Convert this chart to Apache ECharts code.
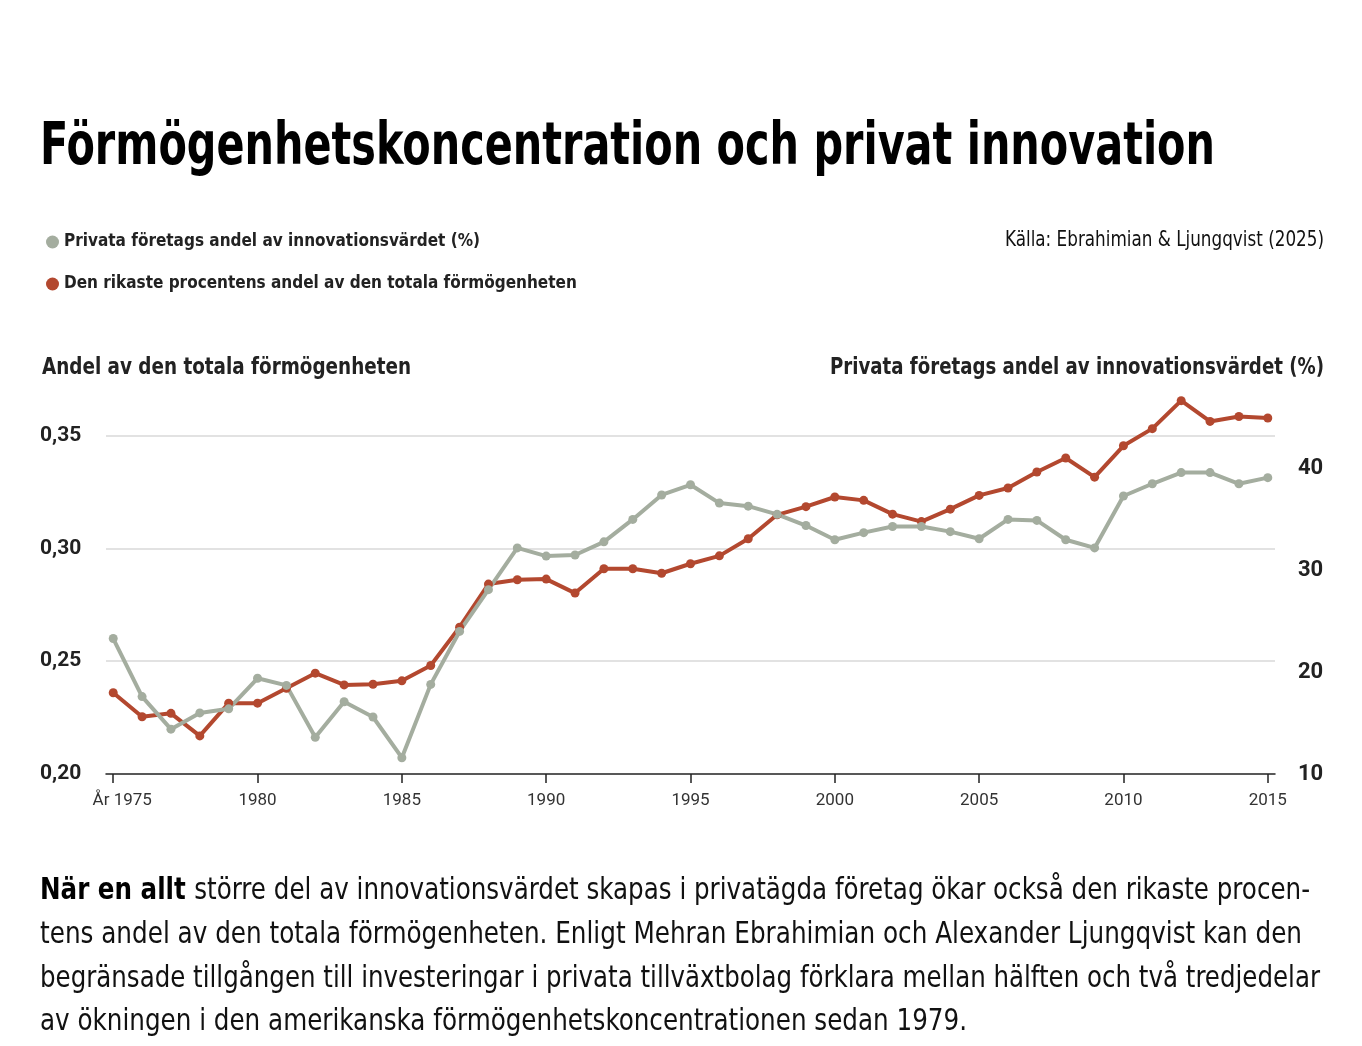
<!DOCTYPE html>
<html>
<head>
<meta charset="utf-8">
<script src="https://cdn.jsdelivr.net/npm/echarts@6/dist/echarts.min.js"></script>
<style>
  html, body { margin: 0; background: #fff; }
  #chart { width: 1362px; height: 1046px; }
</style>
</head>
<body>
<div id="chart"></div>
<script>
// years 1975-2015
const years = [1975, 1976, 1977, 1978, 1979, 1980, 1981, 1982, 1983, 1984,
  1985, 1986, 1987, 1988, 1989, 1990, 1991, 1992, 1993, 1994,
  1995, 1996, 1997, 1998, 1999, 2000, 2001, 2002, 2003, 2004,
  2005, 2006, 2007, 2008, 2009, 2010, 2011, 2012, 2013, 2014, 2015];

// den rikaste procentens andel (vänster axel)
const wealthShare = [0.236, 0.2254, 0.2269, 0.2169, 0.2314, 0.2314, 0.238, 0.2447, 0.2395, 0.2398,
  0.2413, 0.2481, 0.2651, 0.2842, 0.2861, 0.2864, 0.2802, 0.291, 0.291, 0.289,
  0.2932, 0.2967, 0.3043, 0.3149, 0.3185, 0.3228, 0.3213, 0.3152, 0.3119, 0.3174,
  0.3235, 0.3268, 0.3339, 0.3401, 0.3316, 0.3455, 0.3531, 0.3655, 0.3563, 0.3585, 0.3578];

// privata företags andel av innovationsvärdet, % (höger axel)
const privateShare = [23.3, 17.6, 14.4, 16.0, 16.4, 19.4, 18.7, 13.6, 17.1, 15.6,
  11.6, 18.8, 24.0, 28.1, 32.2, 31.4, 31.5, 32.8, 35.0, 37.4,
  38.4, 36.6, 36.3, 35.5, 34.4, 33.0, 33.7, 34.3, 34.3, 33.8,
  33.1, 35.0, 34.9, 33.0, 32.2, 37.3, 38.5, 39.6, 39.6, 38.5, 39.1];

const xTicks = [1975, 1980, 1985, 1990, 1995, 2000, 2005, 2010, 2015];

const RED = '#b3482f';
const GREY = '#a4ad9f';
const NARROW = "'Liberation Sans Narrow', 'DejaVu Sans Condensed', 'Roboto', sans-serif";
const NAME_WEALTH = 'Den rikaste procentens andel av den totala förmögenheten';
const NAME_PRIVATE = 'Privata företags andel av innovationsvärdet (%)';

// squeeze text horizontally so it spans the same width as in the original
const ctx = document.createElement('canvas').getContext('2d');
function fit(parts, width) {
  let w = 0;
  parts.forEach(function (p) { ctx.font = p[1]; w += ctx.measureText(p[0]).width; });
  return width / w;
}
function fnt(weight, size) { return weight + ' ' + size + 'px ' + NARROW; }

function label(text, x, y, width, weight, size, align, color) {
  const f = fnt(weight, size);
  return {
    type: 'text', x: x, y: y,
    scaleX: fit([[text, f]], width),
    style: { text: text, font: f, fill: color || '#111', align: align || 'left', verticalAlign: 'middle' }
  };
}

const bodyLines = [
  ['större del av innovationsvärdet skapas i privatägda företag ökar också den rikaste procen-', 1270],
  ['tens andel av den totala förmögenheten. Enligt Mehran Ebrahimian och Alexander Ljungqvist kan den', 1262],
  ['begränsade tillgången till investeringar i privata tillväxtbolag förklara mellan hälften och två tredjedelar', 1280],
  ['av ökningen i den amerikanska förmögenhetskoncentrationen sedan 1979.', 927]
];
const bodyY = [891, 935, 979, 1022];
const graphics = [
  label('Förmögenhetskoncentration och privat innovation', 40, 149, 1175, 'bold', 58, 'left', '#000'),
  label('Källa: Ebrahimian & Ljungqvist (2025)', 1324, 241, 319, 'normal', 21, 'right', '#111'),
  label('Andel av den totala förmögenheten', 42, 368, 369, 'bold', 23, 'left', '#222'),
  label(NAME_PRIVATE, 1324, 368, 494, 'bold', 23, 'right', '#222')
];
bodyLines.forEach(function (l, i) {
  if (i === 0) {
    const lead = 'När en allt ';
    const s = fit([[lead, fnt('bold', 30)], [l[0], fnt('normal', 30)]], l[1]);
    graphics.push({
      type: 'text', x: 40, y: bodyY[i], scaleX: s,
      style: {
        text: '{b|' + lead + '}' + l[0],
        font: fnt('normal', 30), fill: '#111', verticalAlign: 'middle',
        rich: { b: { font: fnt('bold', 30), fill: '#000' } }
      }
    });
  } else {
    graphics.push(label(l[0], 40, bodyY[i], l[1], 'normal', 30, 'left', '#111'));
  }
});

const chart = echarts.init(document.getElementById('chart'), null, { renderer: 'canvas' });
chart.setOption({
  backgroundColor: '#fff',
  animation: false,
  textStyle: { fontFamily: 'Roboto, sans-serif' },
  graphic: graphics,
  legend: {
    data: [NAME_PRIVATE, NAME_WEALTH],
    orient: 'vertical',
    left: 41, top: 227,
    icon: 'circle',
    itemWidth: 13, itemHeight: 13,
    itemGap: 22, itemTextGap: 5,
    selectedMode: false,
    textStyle: { fontFamily: NARROW, fontWeight: 'bold', fontSize: 17, lineHeight: 20, color: '#222' }
  },
  grid: { left: 106, right: 87, top: 386, bottom: 272 },
  xAxis: {
    type: 'value',
    min: 1974.75, max: 2015.25,
    axisLine: { lineStyle: { color: '#222', width: 1.5 } },
    axisTick: { customValues: xTicks, length: 9, lineStyle: { color: '#222', width: 1.5 } },
    axisLabel: {
      customValues: xTicks,
      margin: 18,
      fontSize: 17, color: '#333',
      formatter: function (v) { return v === 1975 ? '{f|År 1975}' : String(v); },
      rich: { f: { fontSize: 17, color: '#333', padding: [0, 0, 0, 18] } }
    },
    splitLine: { show: false }
  },
  yAxis: [{
    type: 'value',
    min: 0.2, max: 0.372, interval: 0.05,
    axisLine: { show: false }, axisTick: { show: false },
    axisLabel: {
      showMaxLabel: false,
      align: 'left', margin: 66,
      fontSize: 21, fontWeight: 'bold', color: '#222',
      formatter: function (v) { return v.toFixed(2).replace('.', ','); }
    },
    splitLine: { showMinLine: false, showMaxLine: false, lineStyle: { color: '#d9d9d9', width: 1.5 } }
  }, {
    type: 'value',
    min: 10, max: 48.1, interval: 10,
    axisLine: { show: false }, axisTick: { show: false },
    axisLabel: {
      showMaxLabel: false,
      margin: 23,
      fontSize: 22, fontWeight: 'bold', color: '#222'
    },
    splitLine: { show: false }
  }],
  series: [{
    name: NAME_WEALTH,
    type: 'line',
    yAxisIndex: 0,
    data: years.map(function (y, i) { return [y, wealthShare[i]]; }),
    symbol: 'circle', symbolSize: 9,
    lineStyle: { color: RED, width: 4 },
    itemStyle: { color: RED },
    emphasis: { disabled: true }
  }, {
    name: NAME_PRIVATE,
    type: 'line',
    yAxisIndex: 1,
    data: years.map(function (y, i) { return [y, privateShare[i]]; }),
    symbol: 'circle', symbolSize: 9,
    lineStyle: { color: GREY, width: 4 },
    itemStyle: { color: GREY },
    emphasis: { disabled: true }
  }]
});
</script>
</body>
</html>
